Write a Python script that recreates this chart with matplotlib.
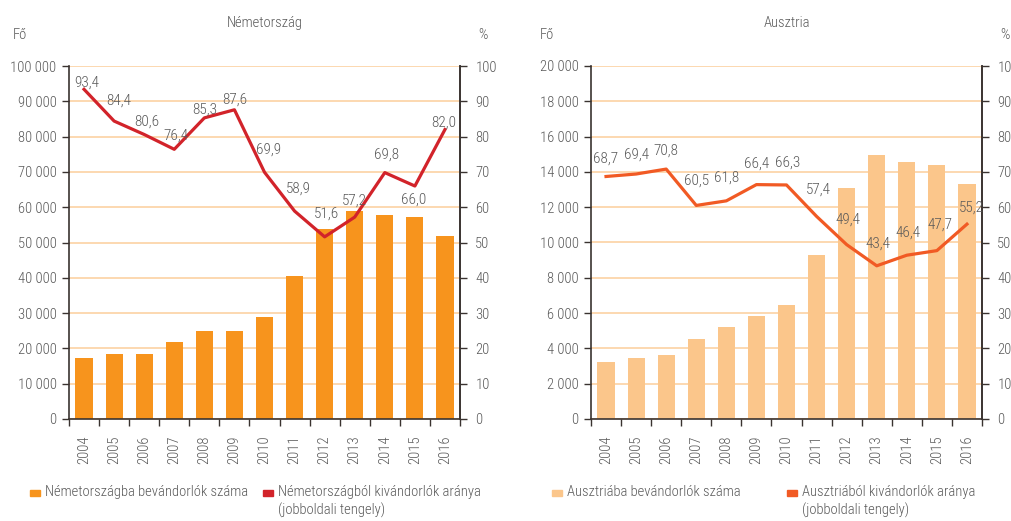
import matplotlib.pyplot as plt
from matplotlib.patches import Rectangle
import numpy as np

plt.rcParams['font.family'] = ['Roboto Condensed', 'Roboto', 'DejaVu Sans']
plt.rcParams['font.weight'] = 'light'

years = ['2004', '2005', '2006', '2007', '2008', '2009', '2010',
         '2011', '2012', '2013', '2014', '2015', '2016']

# Németország
de_immig = [17300, 18400, 18400, 21800, 24900, 24900, 28900,
            40500, 53800, 59000, 57800, 57200, 51800]
de_emig_rate = [93.4, 84.4, 80.6, 76.4, 85.3, 87.6, 69.9,
                58.9, 51.6, 57.2, 69.8, 66.0, 82.0]

# Ausztria
at_immig = [3230, 3470, 3630, 4530, 5210, 5820, 6460,
            9270, 13070, 14940, 14540, 14410, 13330]
at_emig_rate = [68.7, 69.4, 70.8, 60.5, 61.8, 66.4, 66.3,
                57.4, 49.4, 43.4, 46.4, 47.7, 55.2]

# label offsets in points (dx, dy)
de_offsets = [(2, 5), (3, 15), (2, 9), (1, 10), (0, 6), (0, 7), (3, 16),
              (3, 16), (1, 17), (0, 12), (1, 13), (-1, -10), (-1, 5)]
at_offsets = [(0, 13), (0, 14), (0, 13), (0, 18), (0, 17), (0, 15), (1, 16),
              (1, 19), (1, 18), (1, 16), (1, 16), (2, 19), (3, 12)]

txt = '#595959'
spine = '#3a3330'
grid = '#FCD6AA'
fs = 10.5


def panel(rect, title, immig, rate, offsets, ymax, ystep, bar_col, line_col):
    ax = fig.add_axes(rect)
    x = np.arange(len(years))
    ax.bar(x, immig, width=0.57, color=bar_col, zorder=2)
    ax.set_xlim(-0.5, len(years) - 0.5)
    ax.set_ylim(0, ymax)
    yt = np.arange(0, ymax + 1, ystep)
    ax.set_yticks(yt)
    ax.set_yticklabels([f'{v:,}'.replace(',', ' ') for v in yt])
    ax.yaxis.grid(True, color=grid, linewidth=1.3, zorder=0)
    ax.set_axisbelow(True)
    ax.set_xticks(list(x - 0.5) + [len(years) - 0.5])
    ax.set_xticklabels([])
    ax.set_xticks(x, minor=True)
    ax.set_xticklabels(years, minor=True, rotation=90)
    ax.tick_params(axis='x', which='major', length=5, color=spine, width=1)
    ax.tick_params(axis='x', which='minor', length=0, pad=12,
                   labelsize=fs, labelcolor=txt)
    ax.tick_params(axis='y', length=5, color=spine, width=1, pad=4,
                   labelsize=fs, labelcolor=txt)
    ax.spines['top'].set_visible(False)
    for s in ['left', 'bottom', 'right']:
        ax.spines[s].set_color(spine)
        ax.spines[s].set_linewidth(1.2)

    ax2 = ax.twinx()
    ax2.plot(x, rate, color=line_col, linewidth=2.3, zorder=3)
    ax2.set_ylim(0, 100)
    ax2.set_yticks(np.arange(0, 101, 10))
    ax2.tick_params(axis='y', length=5, color=spine, width=1, pad=6,
                    labelsize=fs, labelcolor=txt)
    for s in ['top', 'left', 'bottom']:
        ax2.spines[s].set_visible(False)
    ax2.spines['right'].set_color(spine)
    ax2.spines['right'].set_linewidth(1.2)
    for xi, v, (dx, dy) in zip(x, rate, offsets):
        ax2.annotate(f'{v:.1f}'.replace('.', ','), (xi, v),
                     xytext=(dx, dy), textcoords='offset points',
                     ha='center', va='center', fontsize=11, color=txt)
    ax.set_title(title, fontsize=fs, color=txt, pad=28, fontweight='light')
    return ax


fig = plt.figure(figsize=(10.11, 5.21), dpi=100)

W, H = 1011, 521
panel([69 / W, 102 / H, 391 / W, 353 / H], 'Németország',
      de_immig, de_emig_rate, de_offsets, 100000, 10000, '#F7941D', '#D2232A')
panel([591 / W, 102 / H, 391 / W, 353 / H], 'Ausztria',
      at_immig, at_emig_rate, at_offsets, 20000, 2000, '#FBC68B', '#F15A24')

fig.text(13 / W, 1 - 35 / H, 'Fő', fontsize=fs, color=txt, va='center')
fig.text(478 / W, 1 - 35 / H, '%', fontsize=fs, color=txt, va='center')
fig.text(540 / W, 1 - 35 / H, 'Fő', fontsize=fs, color=txt, va='center')
fig.text(1000 / W, 1 - 35 / H, '%', fontsize=fs, color=txt, va='center')


def legend_item(xpx, ypx, color, label):
    fig.add_artist(Rectangle((xpx / W, 1 - (ypx + 3) / H), 10 / W, 6 / H,
                             color=color, transform=fig.transFigure))
    fig.text((xpx + 15) / W, 1 - (ypx - 8) / H, label, fontsize=fs, color=txt,
             va='top', linespacing=1.35)


legend_item(30, 493, '#F7941D', 'Németországba bevándorlók száma')
legend_item(263, 493, '#D2232A',
            'Németországból kivándorlók aránya\n(jobboldali tengely)')
legend_item(552, 493, '#FBC68B', 'Ausztriába bevándorlók száma')
legend_item(787, 493, '#F15A24',
            'Ausztriából kivándorlók aránya\n(jobboldali tengely)')

fig.savefig('out.png', dpi=100)
